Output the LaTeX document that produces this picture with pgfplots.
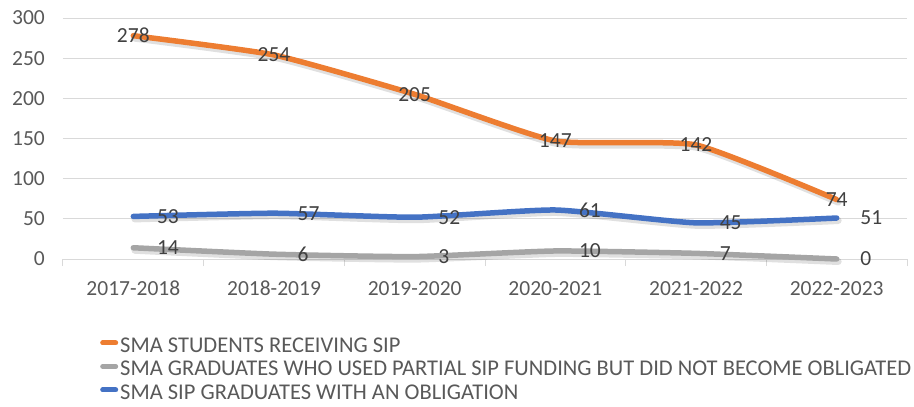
\documentclass[border=0pt]{standalone}
\usepackage{pgfplots}
\pgfplotsset{compat=1.18}
\usepackage{fontspec}
\setmainfont{Carlito}
\definecolor{cOrange}{HTML}{ED7D31}
\definecolor{cGray}{HTML}{A5A5A5}
\definecolor{cBlue}{HTML}{4472C4}
\definecolor{gridc}{HTML}{D9D9D9}
\definecolor{txt}{HTML}{595959}
\definecolor{lbl}{HTML}{404040}
\newcommand{\fs}{\fontsize{21.5}{25}\selectfont}
\newcommand{\fl}{\fontsize{22.5}{26}\selectfont}
\begin{document}
\begin{tikzpicture}
\begin{axis}[
  scale only axis, width=844pt, height=241pt,
  xmin=-0.5, xmax=5.5, ymin=0, ymax=300,
  ytick={0,50,...,300},
  xtick={0,...,5},
  xticklabels={2017-2018,2018-2019,2019-2020,2020-2021,2021-2022,2022-2023},
  major tick length=0pt,
  xtick pos=lower, ytick pos=left,
  extra x ticks={-0.5,0.5,1.5,2.5,3.5,4.5,5.5},
  extra x tick labels={},
  extra x tick style={major tick length=7pt, tick align=outside, tick style={gridc, line width=1pt}},
  ymajorgrids, grid style={gridc, line width=1pt},
  axis line style={draw=none},
  /pgf/number format/assume math mode=true,
  yticklabel style={font=\fs, text=txt, inner sep=0pt, xshift=-18pt},
  xticklabel style={font=\fs, text=txt, inner sep=0pt, yshift=-22pt},
  clip=false,
  legend style={at={(0,0)}, anchor=north west, xshift=37pt, yshift=-77pt,
    draw=none, fill=none, inner sep=0pt, font=\fl, text=txt, row sep=4pt,
    cells={anchor=west, inner sep=0pt, text height=14pt, text depth=4pt},
    legend cell align=left},
  legend image code/.code={\draw[#1, line width=5pt, line cap=round] (2.5pt,0.3em) -- (15.5pt,0.3em);},
  every axis plot/.append style={line width=5.5pt, line join=round, line cap=round, smooth, tension=0.3},
  every node near coord/.append style={font=\fs, text=lbl, inner sep=0pt, opacity=1},
]
\addplot[black, opacity=0.12, forget plot, xshift=1.5pt, yshift=-2.5pt, line width=7pt] coordinates {(0,278) (1,254) (2,205) (3,147) (4,142) (5,74)};
\addplot[black, opacity=0.12, forget plot, xshift=1.5pt, yshift=-2.5pt, line width=7pt] coordinates {(0,14) (1,6) (2,3) (3,10) (4,7) (5,0)};
\addplot[black, opacity=0.12, forget plot, xshift=1.5pt, yshift=-2.5pt, line width=7pt] coordinates {(0,53) (1,57) (2,52) (3,61) (4,45) (5,51)};
\addplot[cOrange, nodes near coords, nodes near coords align={center}] coordinates {(0,278) (1,254) (2,205) (3,147) (4,142) (5,74)};
\addlegendentry{SMA STUDENTS RECEIVING SIP}
\addplot[cGray, nodes near coords, nodes near coords align={west}, every node near coord/.append style={xshift=21pt}] coordinates {(0,14) (1,6) (2,3) (3,10) (4,7) (5,0)};
\addlegendentry{SMA GRADUATES WHO USED PARTIAL SIP FUNDING BUT DID NOT BECOME OBLIGATED}
\addplot[cBlue, nodes near coords, nodes near coords align={west}, every node near coord/.append style={xshift=21pt}] coordinates {(0,53) (1,57) (2,52) (3,61) (4,45) (5,51)};
\addlegendentry{SMA SIP GRADUATES WITH AN OBLIGATION}
\coordinate (O) at (rel axis cs:0,0);
\end{axis}
\pgfresetboundingbox
\path ([xshift=-63pt,yshift=-148pt]O) rectangle ([xshift=851pt,yshift=259pt]O);
\end{tikzpicture}
\end{document}
